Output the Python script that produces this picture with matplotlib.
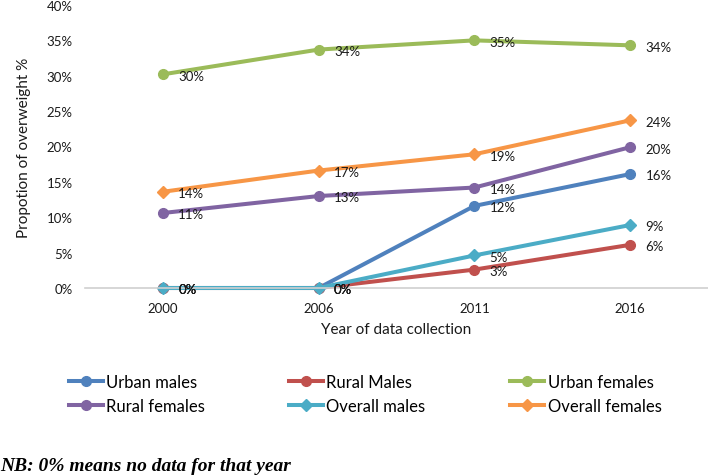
import matplotlib
matplotlib.use("Agg")
import matplotlib.pyplot as plt
import numpy as np

years = ["2000", "2006", "2011", "2016"]
series_names = ["Urban males", "Rural Males", "Urban females",
                "Rural females", "Overall males", "Overall females"]
urban_males = [0.0, 0.0, 11.6, 16.1]
rural_males = [0.0, 0.0, 2.6, 6.1]
urban_females = [30.2, 33.7, 35.0, 34.3]
rural_females = [10.6, 13.0, 14.2, 19.9]
overall_males = [0.0, 0.0, 4.6, 8.9]
overall_females = [13.6, 16.6, 18.9, 23.7]

values = [urban_males, rural_males, urban_females,
          rural_females, overall_males, overall_females]
colors = ["#4F81BD", "#C0504D", "#9BBB59", "#8064A2", "#4BACC6", "#F79646"]
markers = ["o", "o", "o", "o", "D", "D"]

plt.rcParams["font.family"] = ["Lato", "DejaVu Sans"]

fig = plt.figure(figsize=(7.08, 4.77), dpi=100)
ax = fig.add_axes([85 / 708, 1 - 289 / 477, 1 - 85 / 708, (289 - 6) / 477])

x = np.arange(len(years))
lines = []
for name, vals, col, mk in zip(series_names, values, colors, markers):
    ln, = ax.plot(x, vals, color=col, lw=2.9, marker=mk,
                  markersize=7 if mk == "o" else 6, label=name, clip_on=False)
    lines.append(ln)
    for xi, v in zip(x, vals):
        ax.annotate(f"{v:.0f}%", (xi, v), xytext=(11, -1), textcoords="offset points",
                    ha="left", va="center", fontsize=9.5, color="#1a1a1a")

ax.set_xlim(-0.5, len(years) - 0.5)
ax.set_ylim(0, 40)
ax.set_yticks(np.arange(0, 41, 5))
ax.set_yticklabels([f"{t}%" for t in range(0, 41, 5)])
ax.set_xticks(x)
ax.set_xticklabels(years)
ax.tick_params(axis="y", length=0, labelsize=9.5, colors="#1a1a1a", pad=9)
ax.tick_params(axis="x", length=0, labelsize=9.5, colors="#1a1a1a", pad=10)
for s in ["top", "right", "left"]:
    ax.spines[s].set_visible(False)
ax.spines["bottom"].set_color("#d0d0d0")
ax.spines["bottom"].set_linewidth(1.2)

ax.set_ylabel("Propotion of overweight %", fontsize=11, labelpad=11, color="#1a1a1a")
ax.set_xlabel("Year of data collection", fontsize=11, labelpad=6, color="#1a1a1a")

# legend laid out row by row, one legend per column
col_x = [69, 289, 510]
for c in range(3):
    fig.legend([lines[c], lines[c + 3]], [series_names[c], series_names[c + 3]],
               loc="center left", bbox_to_anchor=(col_x[c] / 708, 1 - 395 / 477),
               frameon=False, fontsize=12, handlelength=2.05, handletextpad=0.2,
               labelspacing=0.5, borderpad=0, borderaxespad=0)

fig.text(0.0, 1 - 467 / 477, "NB: 0% means no data for that year", fontsize=14,
         family=["Liberation Serif"], weight="bold", style="italic", va="center")

fig.savefig("out.png", dpi=100)
